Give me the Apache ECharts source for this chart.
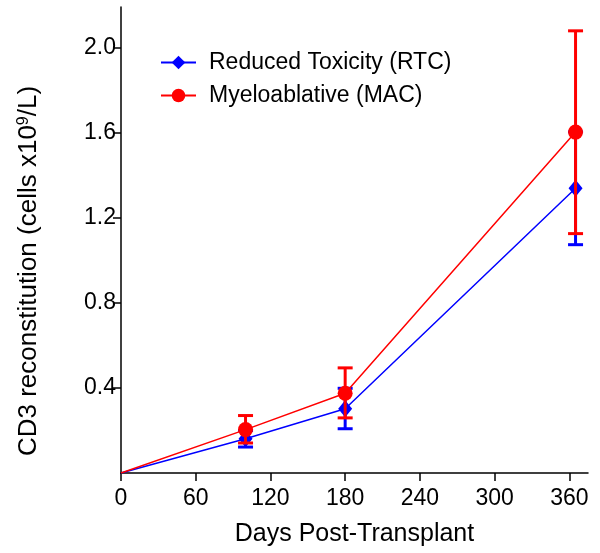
<!DOCTYPE html>
<html><head><meta charset="utf-8">
<script src="https://cdn.jsdelivr.net/npm/echarts@6/dist/echarts.min.js"></script>
<style>html,body{margin:0;padding:0;background:#fff}#c{width:600px;height:553px}</style>
</head><body><div id="c"></div>
<script>
const days = [0, 100, 180, 365];
const rtcMean = [0, 0.161, 0.302, 1.338];
const rtcLow  = [null, 0.122, 0.208, 1.073];
const rtcHigh = [null, 0.200, 0.398, 1.603];
const macMean = [0, 0.204, 0.375, 1.602];
const macLow  = [null, 0.141, 0.259, 1.125];
const macHigh = [null, 0.270, 0.494, 2.078];
const xTicks = [0, 60, 120, 180, 240, 300, 360];
const yTicks = [0.4, 0.8, 1.2, 1.6, 2.0];

const FONT = 'Liberation Sans, Arial, sans-serif';
const BLUE = '#0000ff', RED = '#ff0000';

function errData(lo, hi) {
  const out = [];
  for (let i = 0; i < days.length; i++) if (lo[i] != null) out.push([days[i], lo[i], hi[i]]);
  return out;
}
function errSeries(name, lo, hi, color, z) {
  return {
    type: 'custom', name: name + '_err', z: z, silent: true,
    data: errData(lo, hi),
    encode: { x: 0, y: [1, 2] },
    renderItem: function (params, api) {
      const x = api.value(0);
      const p1 = api.coord([x, api.value(1)]);
      const p2 = api.coord([x, api.value(2)]);
      const w = 7.5;
      const st = { stroke: color, lineWidth: 3, fill: null };
      return { type: 'group', children: [
        { type: 'line', shape: { x1: p1[0], y1: p1[1], x2: p2[0], y2: p2[1] }, style: st },
        { type: 'line', shape: { x1: p1[0] - w, y1: p1[1], x2: p1[0] + w, y2: p1[1] }, style: st },
        { type: 'line', shape: { x1: p2[0] - w, y1: p2[1], x2: p2[0] + w, y2: p2[1] }, style: st }
      ]};
    }
  };
}

const chart = echarts.init(document.getElementById('c'), null, { renderer: 'canvas' });
chart.setOption({
  animation: false,
  backgroundColor: '#fff',
  grid: { left: 121, right: 12, top: 7, bottom: 80 },
  legend: {
    orient: 'vertical', left: 155, top: 46, itemGap: 10,
    itemWidth: 35, itemHeight: 17,
    textStyle: { fontFamily: FONT, fontSize: 23, color: '#000', padding: [0, 0, 0, 8] },
    data: ['Reduced Toxicity (RTC)', 'Myeloablative (MAC)']
  },
  xAxis: {
    type: 'value', min: 0, max: 375,
    axisLine: { lineStyle: { color: '#000', width: 1.5 } },
    axisTick: { show: true, length: 8, lineStyle: { color: '#000', width: 1.5 }, customValues: xTicks },
    axisLabel: { fontFamily: FONT, fontSize: 23, color: '#000', margin: 14, customValues: xTicks },
    splitLine: { show: false },
    name: 'Days Post-Transplant', nameLocation: 'middle', nameGap: 49,
    nameTextStyle: { fontFamily: FONT, fontSize: 25, color: '#000' }
  },
  yAxis: {
    type: 'value', min: 0, max: 2.19,
    axisLine: { show: true, lineStyle: { color: '#000', width: 1.5 } },
    axisTick: { show: true, length: 8, lineStyle: { color: '#000', width: 1.5 }, customValues: yTicks },
    axisLabel: { fontFamily: FONT, fontSize: 23, color: '#000', margin: 5, customValues: yTicks,
      formatter: v => v.toFixed(1) },
    splitLine: { show: false }
  },
  graphic: [{
    type: 'text', x: 29, y: 271, rotation: Math.PI / 2,
    style: {
      text: '{a|CD3 reconstitution (cells x10}{s|9}{a|/L)}',
      align: 'center', verticalAlign: 'middle',
      rich: {
        a: { fontFamily: FONT, fontSize: 26, fill: '#000' },
        s: { fontFamily: FONT, fontSize: 16, fill: '#000', padding: [0, 0, 11, 0] }
      }
    }
  }],
  series: [
    { type: 'line', name: 'Reduced Toxicity (RTC)', z: 2,
      data: days.map((d, i) => [d, rtcMean[i]]),
      lineStyle: { color: BLUE, width: 1.5 }, itemStyle: { color: BLUE },
      symbol: 'diamond', showAllSymbol: true,
      symbolSize: function (v, p) { return p.dataIndex === 0 ? 0 : [14, 17]; } },
    errSeries('rtc', rtcLow, rtcHigh, BLUE, 3),
    errSeries('mac', macLow, macHigh, RED, 4),
    { type: 'line', name: 'Myeloablative (MAC)', z: 5,
      data: days.map((d, i) => [d, macMean[i]]),
      lineStyle: { color: RED, width: 1.5 }, itemStyle: { color: RED },
      symbol: 'circle', showAllSymbol: true,
      symbolSize: function (v, p) { return p.dataIndex === 0 ? 0 : 15; } }
  ]
});
</script></body></html>
